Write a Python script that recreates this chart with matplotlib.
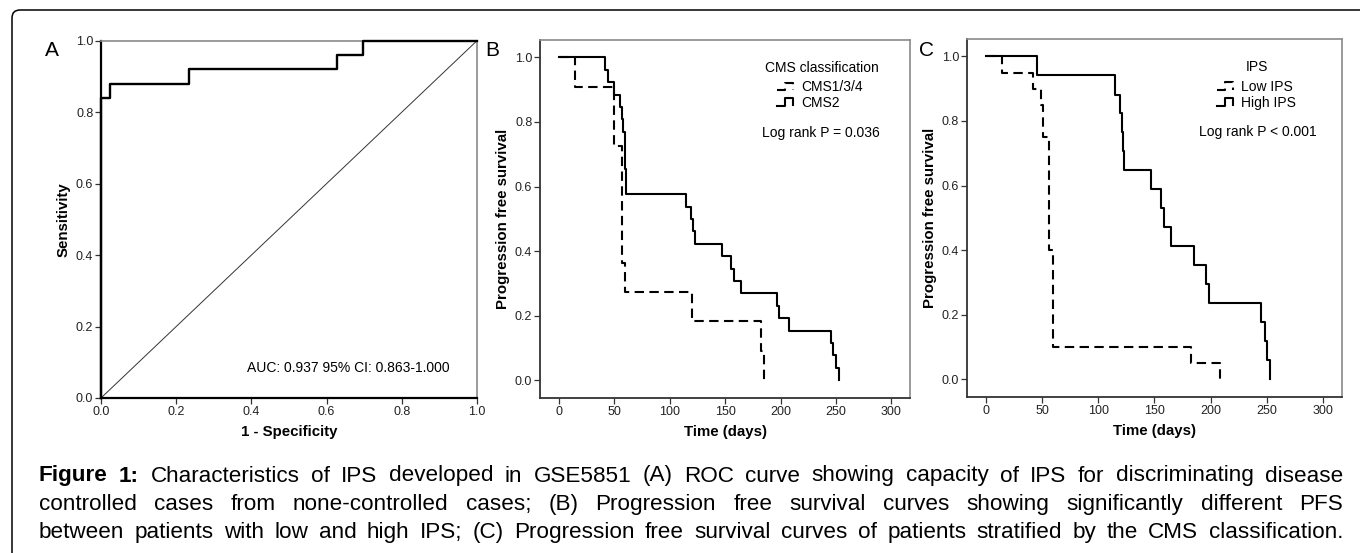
import matplotlib
matplotlib.use("Agg")
import matplotlib.pyplot as plt
from matplotlib.lines import Line2D
from matplotlib.legend_handler import HandlerBase
from matplotlib.patches import FancyBboxPatch

plt.rcParams['font.family'] = ['Liberation Sans', 'DejaVu Sans']

# ROC curve (panel A)
roc_fpr = [0.0, 0.0, 0.023, 0.023, 0.233, 0.233, 0.628, 0.628, 0.698, 0.698, 1.0]
roc_tpr = [0.0, 0.84, 0.84, 0.88, 0.88, 0.92, 0.92, 0.96, 0.96, 1.0, 1.0]
auc_text = "AUC: 0.937 95% CI: 0.863-1.000"

# Panel B: CMS classification
cms2_t = [0, 41.5, 43.9, 49.3, 55.3, 57.1, 58.3, 59.8, 61.0, 115.1, 119.0, 121.0, 123.0,
          146.7, 155.7, 158.1, 164.7, 196.3, 198.7, 207.7, 245.0, 247.4, 249.8, 252.8]
cms2_s = [1.0, 0.962, 0.923, 0.885, 0.846, 0.808, 0.769, 0.654, 0.577, 0.538, 0.500, 0.462, 0.423,
          0.385, 0.346, 0.308, 0.269, 0.231, 0.192, 0.154, 0.115, 0.077, 0.038, 0.0]
cms134_t = [0, 15.0, 49.5, 57.1, 60.0, 120.5, 182.7, 184.8]
cms134_s = [1.0, 0.909, 0.727, 0.364, 0.273, 0.182, 0.091, 0.0]

# Panel C: IPS
high_t = [0, 45.4, 115.1, 119.6, 121.0, 122.3, 123.1, 146.9, 156.1, 158.8, 164.7,
          184.9, 196.1, 198.8, 245.1, 248.1, 250.1, 253.1]
high_s = [1.0, 0.941, 0.882, 0.824, 0.765, 0.706, 0.647, 0.588, 0.529, 0.471, 0.412,
          0.353, 0.294, 0.235, 0.176, 0.118, 0.059, 0.0]
low_t = [0, 14.2, 41.8, 49.0, 50.7, 56.2, 59.6, 182.8, 208.0]
low_s = [1.0, 0.95, 0.90, 0.85, 0.75, 0.40, 0.10, 0.05, 0.0]

caption_lines = [
    "Figure 1: Characteristics of IPS developed in GSE5851 (A) ROC curve showing capacity of IPS for discriminating disease",
    "controlled cases from none-controlled cases; (B) Progression free survival curves showing significantly different PFS",
    "between patients with low and high IPS; (C) Progression free survival curves of patients stratified by the CMS classification.",
]

W, H = 1360, 553
fig = plt.figure(figsize=(W / 100, H / 100), dpi=100)


def px_axes(left, top, right, bottom):
    return fig.add_axes([left / W, (H - bottom) / H, (right - left) / W, (bottom - top) / H])


class StepHandler(HandlerBase):
    # small step glyph like the SPSS legend
    def create_artists(self, legend, orig_handle, xdescent, ydescent, width, height, fontsize, trans):
        x0, y0 = -xdescent, -ydescent
        xs = [x0, x0 + 0.4 * width, x0 + 0.4 * width, x0 + 0.85 * width, x0 + 0.85 * width]
        ys = [y0 + 0.1 * height, y0 + 0.1 * height, y0 + 0.9 * height, y0 + 0.9 * height, y0 + 0.15 * height]
        ln = Line2D(xs, ys)
        ln.update_from(orig_handle)
        ln.set_drawstyle('default')
        ln.set_transform(trans)
        return [ln]


def style_frame(ax, dark_lw=1.3, dark='#333333'):
    for s in ['left', 'bottom']:
        ax.spines[s].set_color(dark)
        ax.spines[s].set_linewidth(dark_lw)
    for s in ['top', 'right']:
        ax.spines[s].set_color('#8a8a8a')
        ax.spines[s].set_linewidth(1.2)
    ax.tick_params(direction='out', length=4, width=0.9, color='#333333',
                   labelsize=9, labelcolor='#222222', pad=1.5)


dash = (0, (4.5, 2.6))

# ---- Panel A ----
axA = px_axes(101, 40.7, 477, 398)
axA.plot([0, 1], [0, 1], color='#333333', lw=0.7)
axA.plot(roc_fpr, roc_tpr, color='black', lw=1.7, clip_on=False, zorder=3)
axA.set_xlim(0, 1)
axA.set_ylim(0, 1)
ticks = [0.0, 0.2, 0.4, 0.6, 0.8, 1.0]
axA.set_xticks(ticks)
axA.set_yticks(ticks)
axA.set_xticklabels([f"{v:.1f}" for v in ticks])
axA.set_yticklabels([f"{v:.1f}" for v in ticks])
style_frame(axA, dark_lw=1.6, dark='black')
axA.set_xlabel("1 - Specificity", fontsize=10.8, fontweight='bold')
axA.set_ylabel("Sensitivity", fontsize=10.8, fontweight='bold')
axA.xaxis.set_label_coords(0.5, -0.076)
axA.yaxis.set_label_coords(-0.082, 0.5)
axA.text(0.928, 0.084, auc_text, transform=axA.transAxes, ha='right', va='center', fontsize=10)


def km_panel(ax, t1, s1, lab1, t2, s2, lab2, title, ptext, title_x, leg_x, leg_y, p_x, ylab_x):
    l1, = ax.plot(t1, s1, drawstyle='steps-post', color='black', lw=1.5, linestyle=dash, label=lab1)
    l2, = ax.plot(t2, s2, drawstyle='steps-post', color='black', lw=1.5, label=lab2)
    ax.set_xlim(-17, 316.7)
    ax.set_ylim(-0.055, 1.054)
    ax.set_xticks([0, 50, 100, 150, 200, 250, 300])
    yt = [0.0, 0.2, 0.4, 0.6, 0.8, 1.0]
    ax.set_yticks(yt)
    ax.set_yticklabels([f"{v:.1f}" for v in yt])
    style_frame(ax)
    ax.set_xlabel("Time (days)", fontsize=10.8, fontweight='bold')
    ax.set_ylabel("Progression free survival", fontsize=10.8, fontweight='bold')
    ax.xaxis.set_label_coords(0.5, -0.076)
    ax.yaxis.set_label_coords(ylab_x, 0.5)
    ax.text(title_x, 0.921, title, transform=ax.transAxes, ha='center', va='center', fontsize=10)
    ax.legend(handles=[l1, l2], loc='center', bbox_to_anchor=(leg_x, leg_y),
              frameon=False, fontsize=10, handlelength=1.35,
              handletextpad=0.35, labelspacing=0.1, borderpad=0.0,
              handler_map={Line2D: StepHandler()})
    ax.text(p_x, 0.74, ptext, transform=ax.transAxes, ha='center', va='center', fontsize=10)


axB = px_axes(540, 40, 910, 398)
km_panel(axB, cms134_t, cms134_s, "CMS1/3/4", cms2_t, cms2_s, "CMS2",
         "CMS classification", "Log rank P = 0.036", 0.761, 0.757, 0.846, 0.759, -0.081)

axC = px_axes(966.7, 39, 1341.7, 397)
km_panel(axC, low_t, low_s, "Low IPS", high_t, high_s, "High IPS",
         "IPS", "Log rank P < 0.001", 0.773, 0.773, 0.844, 0.777, -0.079)

# panel letters
for lx, lab in [(52, "A"), (492, "B"), (927, "C")]:
    fig.text(lx / W, 1 - 51 / H, lab, fontsize=15, ha='center', va='center')

# outer rounded border (top and left visible)
border = FancyBboxPatch((0.12, -1.0), 20, (H - 10) / 100 + 1.0,
                        boxstyle="round,pad=0,rounding_size=0.08",
                        transform=fig.dpi_scale_trans, fill=False, edgecolor='black', lw=1.1)
fig.patches.append(border)

# justified caption
renderer = fig.canvas.get_renderer()
cap_left, cap_right = 39, 1343
baselines = [481.5, 510, 538.3]
for li, line in enumerate(caption_lines):
    words = line.split(" ")
    arts = []
    for wi, w in enumerate(words):
        bold = (li == 0 and wi < 2)
        t = fig.text(0, 1 - baselines[li] / H, w, fontsize=16.2, va='baseline', ha='left',
                     fontweight='bold' if bold else 'normal')
        arts.append(t)
    widths = [a.get_window_extent(renderer).width for a in arts]
    gap = (cap_right - cap_left - sum(widths)) / (len(words) - 1)
    x = cap_left
    for a, wd in zip(arts, widths):
        a.set_x(x / W)
        x += wd + gap

fig.savefig("out.png", dpi=100)
